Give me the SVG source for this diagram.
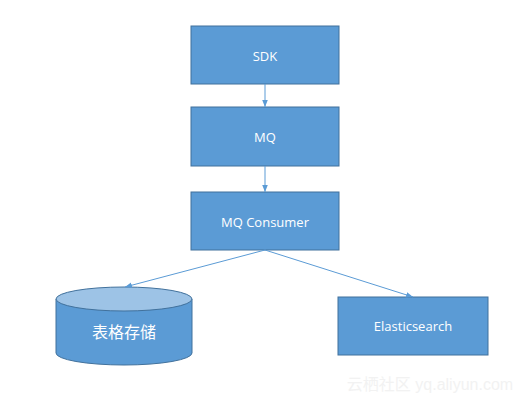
<svg xmlns="http://www.w3.org/2000/svg" width="524" height="400" viewBox="0 0 524 400">
<style>
.box{fill:#5B9BD5;stroke:#41719C;stroke-width:1}
.lbl{fill:#fff;font-family:"Open Sans","Liberation Sans",sans-serif;font-size:13px;text-anchor:middle;dominant-baseline:central}
.cjk{fill:#fff;font-family:"Noto Sans CJK SC",sans-serif;font-size:16px;text-anchor:middle;dominant-baseline:central}
.conn{stroke:#5B9BD5;stroke-width:1;fill:none;marker-end:url(#ah)}
</style>
<defs>
<marker id="ah" viewBox="0 0 10 10" refX="10" refY="5" markerWidth="7" markerHeight="7" orient="auto" markerUnits="userSpaceOnUse">
<path d="M0,1 L10,5 L0,9 z" fill="#5B9BD5"/>
</marker>
</defs>
<rect width="524" height="400" fill="#fff"/>
<g id="sdk"><rect class="box" x="191" y="26" width="148" height="58"/><text class="lbl" x="265" y="56">SDK</text></g>
<g id="mq"><rect class="box" x="191" y="107" width="148" height="59"/><text class="lbl" x="265" y="137">MQ</text></g>
<g id="consumer"><rect class="box" x="191" y="192" width="148" height="58"/><text class="lbl" x="265" y="222">MQ Consumer</text></g>
<g id="table">
<path class="box" d="M56,299 L56,353 A68,12 0 0 0 192,353 L192,299"/>
<ellipse cx="124" cy="299" rx="68" ry="12" fill="#9DC3E6" stroke="#41719C"/>
<text class="cjk" x="124" y="331">表格存储</text>
</g>
<g id="es"><rect class="box" x="338" y="297" width="150" height="58"/><text class="lbl" x="413" y="326">Elasticsearch</text></g>
<g id="connectors">
<line class="conn" x1="265" y1="84" x2="265" y2="107"/>
<line class="conn" x1="265" y1="166" x2="265" y2="192"/>
<line class="conn" x1="265" y1="250" x2="125" y2="287"/>
<line class="conn" x1="265" y1="250" x2="413" y2="297"/>
</g>
<text x="430" y="390" fill="#f2f2f2" font-family="Liberation Sans,Noto Sans CJK SC,sans-serif" font-size="16" text-anchor="middle">云栖社区 yq.aliyun.com</text>
</svg>
